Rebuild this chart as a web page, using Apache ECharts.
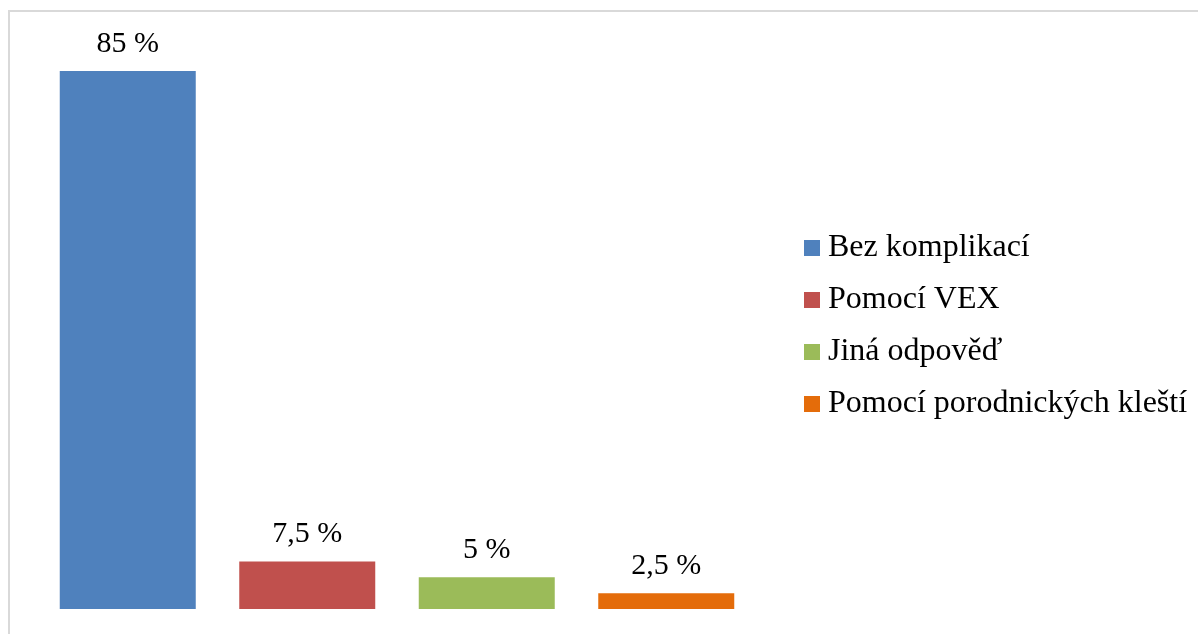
<!DOCTYPE html>
<html>
<head>
<meta charset="utf-8">
<script src="https://cdn.jsdelivr.net/npm/echarts@6/dist/echarts.min.js"></script>
<style>
  html, body { margin: 0; padding: 0; background: #fff; }
  #chart { width: 1198px; height: 634px; }
</style>
</head>
<body>
<div id="chart"></div>
<script>
var categories = ['Bez komplikací', 'Pomocí VEX', 'Jiná odpověď', 'Pomocí porodnických kleští'];
var values = [85, 7.5, 5, 2.5];
var colors = ['#4F81BD', '#C0504D', '#9BBB59', '#E46C0A'];

var myChart = echarts.init(document.getElementById('chart'));

// one series per category so each one gets its own legend entry
var series = [];
for (var i = 0; i < categories.length; i++) {
    var d = [];
    for (var j = 0; j < categories.length; j++) {
        d.push(i === j ? values[i] : '-');
    }
    series.push({
        name: categories[i],
        type: 'bar',
        stack: 'all',
        barWidth: 136,
        data: d,
        itemStyle: { color: colors[i] },
        label: {
            show: true,
            position: 'top',
            distance: 12,
            color: '#000',
            fontFamily: 'Liberation Serif',
            fontSize: 30,
            formatter: function (p) {
                return String(p.value).replace('.', ',') + ' %';
            }
        }
    });
}

var option = {
    backgroundColor: '#fff',
    animation: false,
    graphic: [{
        type: 'rect',
        shape: { x: 9, y: 11, width: 1400, height: 1000 },
        style: { fill: 'none', stroke: '#d9d9d9', lineWidth: 2 },
        silent: true
    }],
    grid: { left: 38, right: 442, top: 71, bottom: 25 },
    legend: {
        orient: 'vertical',
        left: 799,
        top: 227,
        itemWidth: 16,
        itemHeight: 16,
        itemGap: 20,
        icon: 'rect',
        textStyle: {
            fontFamily: 'Liberation Serif',
            fontSize: 32,
            lineHeight: 32,
            color: '#000',
            padding: [0, 0, 0, 3]
        },
        data: categories
    },
    xAxis: {
        type: 'category',
        data: categories,
        show: false
    },
    yAxis: {
        type: 'value',
        min: 0,
        max: 85,
        show: false
    },
    series: series
};
myChart.setOption(option);
</script>
</body>
</html>
